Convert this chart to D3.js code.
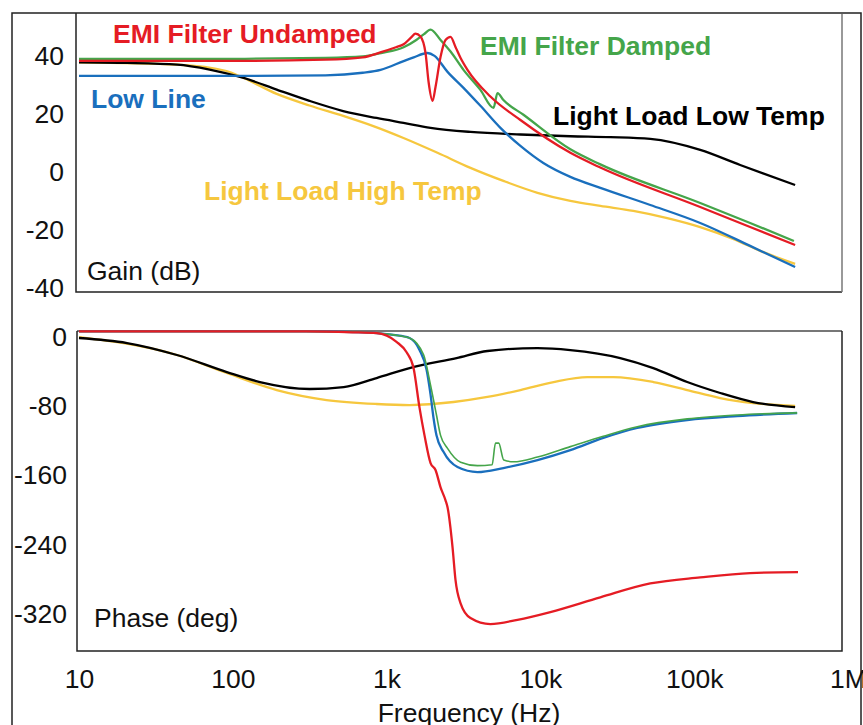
<!DOCTYPE html>
<html>
<head>
<meta charset="utf-8">
<script src="https://cdn.jsdelivr.net/npm/d3@7"></script>
<style>
	body { margin: 0; background: #fff; }
	svg { display: block; }
</style>
</head>
<body>
<svg></svg>
<script>
// axis ticks
const freqTicks = [10, 100, 1000, 10000, 100000, 1000000];
const freqLabels = ['10', '100', '1k', '10k', '100k', '1M'];
const gainTicks = [40, 20, 0, -20, -40];
const phaseTicks = [0, -80, -160, -240, -320];

// gain curves, [Hz, dB]
const gainUndamped = [[10,38.3],[100,38.3],[400,38.7],[700,39.5],[920,41.3],[1150,43],[1290,44],[1450,46.5],[1540,47.7],[1662,46.7],[1791,41],[1875,31],[1990,24.5],[2080,29.3],[2243,39.7],[2416,45.5],[2605,46.6],[2805,43.1],[3027,39.3],[3357,35.2],[4731,26],[7413,17.9],[15660,6.6],[24530,1.5],[109400,-12.1],[231000,-19],[453000,-25.2]];
const gainDamped = [[10,39],[100,39],[400,39.3],[700,39.8],[920,41],[1290,43],[1560,45.5],[1750,47.5],[1931,49.1],[2243,45.5],[2605,41.5],[3162,35.2],[4073,28.3],[4955,22.1],[5260,27.2],[5749,24.8],[7760,19.7],[15660,7.8],[24530,2.6],[109400,-10.7],[231000,-17.6],[445000,-23.8]];
const gainLowLine = [[10,33.1],[100,33.1],[400,33.3],[700,34.2],[914,35.2],[1290,38.2],[1500,39.5],[1845,41],[2050,40],[2490,34.5],[3162,29],[4073,22.8],[5496,15.2],[7413,9],[10450,3.1],[15660,-1.7],[24530,-5.5],[51800,-11.4],[109400,-17.6],[231000,-25.5],[453000,-32.8]];
const gainLowTemp = [[10,37.8],[20.5,37.6],[43.5,37],[70.7,35.3],[117.6,32.4],[193,28.4],[315,24.5],[522,21],[861,18.6],[1288,16.9],[1931,15.2],[3510,13.8],[7413,12.9],[15660,12.3],[28500,12],[51800,11.4],[109400,7.6],[199000,2.4],[453000,-4.5]];
const gainHighTemp = [[10,37.8],[43.5,37],[91,34.8],[117.6,32.4],[193,26.9],[315,22.9],[522,19.3],[820,15.8],[1288,11.7],[2142,6.6],[3510,1.4],[5749,-3.1],[9575,-7.2],[15660,-10],[24530,-11.7],[40200,-13.4],[66800,-15.9],[109400,-19],[179000,-23.1],[268000,-27.2],[453000,-31.7]];

// phase curves, [Hz, deg]
const phaseUndamped = [[10,3],[300,3],[600,2],[861,1],[1160,-9],[1349,-21],[1496,-39],[1637,-85],[1764,-117],[1931,-149],[2080,-157],[2243,-177],[2416,-192],[2490,-200],[2683,-246],[2805,-284],[3027,-311],[3510,-328],[4731,-335],[7096,-330],[11610,-321],[24530,-304],[51800,-288],[109400,-281],[231000,-276],[473000,-275]];
const phaseDamped = [[10,3],[300,3],[700,2],[1110,-1],[1410,-4.6],[1740,-24],[1931,-59],[2110,-93.5],[2243,-117],[2490,-132],[3027,-148],[3897,-152],[4853,-151],[5104,-126],[5358,-126],[5776,-145.5],[6683,-147.5],[9575,-142],[15660,-130],[25650,-118],[42630,-107],[90100,-98],[190000,-93.5],[467000,-91]];
const phaseLowLine = [[10,3],[300,3],[700,2],[1110,-1],[1410,-4.6],[1637,-18.5],[1818,-41],[1931,-70],[2019,-97],[2110,-117],[2344,-136],[2891,-153.6],[3897,-159.4],[5749,-154.7],[9575,-145.5],[15660,-134],[25650,-120],[42630,-108.5],[90100,-99.3],[190000,-94.7],[467000,-91.2]];
const phaseLowTemp = [[10,-4.6],[20.5,-10.4],[43.3,-24.2],[91.4,-43.9],[150,-55.4],[316,-63.5],[526,-61.2],[861,-50.8],[1410,-39.3],[2851,-27.7],[4525,-19.6],[9575,-16.2],[15660,-18.5],[33050,-27.7],[54200,-39.3],[90100,-55.4],[147600,-68.1],[241600,-78.5],[453000,-84.3]];
const phaseHighTemp = [[10,-3.5],[43.3,-24.2],[91.4,-45],[193,-64.7],[407,-76.2],[861,-80.8],[1410,-82],[2724,-78.5],[4525,-72.7],[7413,-64.7],[12190,-55.4],[20200,-49.7],[29800,-49.7],[54200,-55.4],[90100,-64.7],[147600,-73.9],[241600,-79.7],[453000,-83.1]];

// drawing order: yellow, black, blue, green, red
const series = [
	{name: 'Light Load High Temp', gain: gainHighTemp, phase: phaseHighTemp, colour: '#f6c73e', lx: 204, ly: 200},
	{name: 'Light Load Low Temp', gain: gainLowTemp, phase: phaseLowTemp, colour: '#000000', lx: 553, ly: 125},
	{name: 'Low Line', gain: gainLowLine, phase: phaseLowLine, colour: '#1a6fbd', lx: 91, ly: 108},
	{name: 'EMI Filter Damped', gain: gainDamped, phase: phaseDamped, colour: '#45a54a', lx: 480, ly: 55},
	{name: 'EMI Filter Undamped', gain: gainUndamped, phase: phaseUndamped, colour: '#e51c24', lx: 113, ly: 43}
];

const width = 863;
const height = 725;
const font = '"Liberation Sans", Arial, sans-serif';
const fs = 26.5;

const svg = d3.select('svg')
	.attr('width', width)
	.attr('height', height);

const x = d3.scaleLog().domain([10, 1e6]).range([79, 848]);
const gy = d3.scaleLinear().domain([-41.4, 54.8]).range([292, 13]);
const py = d3.scaleLinear().domain([-366, 3.5]).range([651, 331]);

// frames
svg.append('path')
	.attr('d', 'M12,725V13H861V725')
	.attr('fill', 'none')
	.attr('stroke', '#222')
	.attr('stroke-width', 1.5);

svg.append('path')
	.attr('d', 'M76,13V292H842')
	.attr('fill', 'none')
	.attr('stroke', '#222')
	.attr('stroke-width', 1.5);
svg.append('line')
	.attr('x1', 842).attr('y1', 14).attr('x2', 842).attr('y2', 292)
	.attr('stroke', '#777')
	.attr('stroke-width', 1.5);

svg.append('line')
	.attr('x1', 77).attr('y1', 331).attr('x2', 842).attr('y2', 331)
	.attr('stroke', '#777')
	.attr('stroke-width', 2);
svg.append('path')
	.attr('d', 'M77,331V651H842V331')
	.attr('fill', 'none')
	.attr('stroke', '#222')
	.attr('stroke-width', 1.5);

// axes
const gainAxis = svg.append('g')
	.attr('transform', 'translate(64,0)')
	.call(d3.axisLeft(gy).tickValues(gainTicks).tickSize(0).tickPadding(0).tickFormat(d => String(d)));
const phaseAxis = svg.append('g')
	.attr('transform', 'translate(67,0)')
	.call(d3.axisLeft(py).tickValues(phaseTicks).tickSize(0).tickPadding(0).tickFormat(d => String(d)));
phaseAxis.selectAll('text').attr('dy', '0.42em');
const freqAxis = svg.append('g')
	.attr('transform', 'translate(0,669)')
	.call(d3.axisBottom(x).tickValues(freqTicks).tickSize(0).tickPadding(0).tickFormat((d, i) => freqLabels[i]));

[gainAxis, phaseAxis, freqAxis].forEach(g => {
	g.select('.domain').remove();
	g.attr('font-size', fs).attr('font-family', font);
	g.selectAll('text').attr('fill', '#111');
});

// curves
const gainLine = d3.line()
	.x(d => x(d[0]))
	.y(d => gy(d[1]))
	.curve(d3.curveMonotoneX);
const phaseLine = d3.line()
	.x(d => x(d[0]))
	.y(d => py(d[1]))
	.curve(d3.curveMonotoneX);

svg.append('g')
	.selectAll('path')
	.data(series)
	.enter().append('path')
		.attr('d', d => gainLine(d.gain))
		.attr('fill', 'none')
		.attr('stroke', d => d.colour)
		.attr('stroke-width', 2.3);

svg.append('g')
	.selectAll('path')
	.data(series)
	.enter().append('path')
		.attr('d', d => phaseLine(d.phase))
		.attr('fill', 'none')
		.attr('stroke', d => d.colour)
		.attr('stroke-width', d => d.name === 'EMI Filter Damped' ? 1.6 : 2.3);

// series names
svg.append('g')
	.selectAll('text')
	.data(series)
	.enter().append('text')
		.text(d => d.name)
		.attr('x', d => d.lx)
		.attr('y', d => d.ly)
		.attr('fill', d => d.colour)
		.attr('font-family', font)
		.attr('font-weight', 'bold')
		.attr('font-size', fs);

// panel titles
svg.append('text')
	.text('Gain (dB)')
	.attr('x', 87).attr('y', 280)
	.attr('font-family', font).attr('font-size', fs).attr('fill', '#111');
svg.append('text')
	.text('Phase (deg)')
	.attr('x', 94).attr('y', 627)
	.attr('font-family', font).attr('font-size', fs).attr('fill', '#111');
svg.append('text')
	.text('Frequency (Hz)')
	.attr('x', 469).attr('y', 722)
	.attr('text-anchor', 'middle')
	.attr('font-family', font).attr('font-size', fs).attr('fill', '#111');
</script>
</body>
</html>
